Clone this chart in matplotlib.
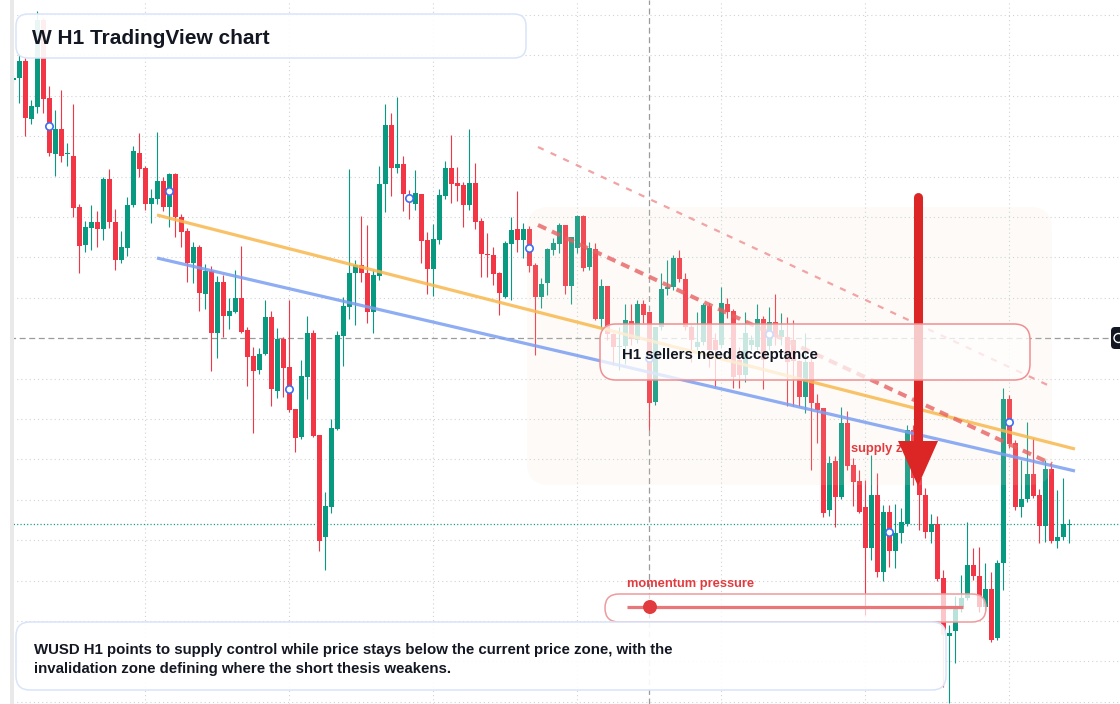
import numpy as np
import matplotlib
matplotlib.use("Agg")
import matplotlib.pyplot as plt
from matplotlib.patches import FancyBboxPatch, Rectangle, Polygon, Circle
import matplotlib.transforms as mtransforms

plt.rcParams['lines.scale_dashes'] = False
plt.rcParams['font.family'] = ['Liberation Sans', 'DejaVu Sans']

# ---------------- data (price points, H1 bars) ----------------
opens = [
    624, 626, 643, 585, 597, 684, 606, 550, 575, 550,
    548, 497, 459, 476, 482, 475, 525, 482, 444, 456,
    499, 551, 536, 500, 505, 523, 497, 530, 487, 473,
    441, 457, 410, 433, 371, 422, 388, 392, 406, 374,
    348, 334, 350, 387, 313, 365, 337, 295, 267, 327,
    371, 269, 167, 197, 275, 368, 397, 431, 439, 431,
    392, 428, 520, 579, 536, 540, 508, 500, 510, 464,
    435, 464, 508, 536, 521, 519, 499, 521, 483, 450,
    449, 431, 407, 460, 475, 464, 475, 439, 407, 421,
    454, 460, 479, 418, 456, 488, 437, 455, 385, 418,
    370, 357, 358, 383, 364, 400, 392, 302, 377, 415,
    417, 446, 425, 377, 357, 362, 398, 364, 359, 400,
    393, 344, 329, 359, 357, 385, 358, 382, 367, 367,
    364, 343, 307, 342, 301, 296, 194, 243, 207, 281,
    239, 223, 197, 156, 209, 132, 192, 153, 171, 180,
    274, 226, 209, 172, 180, 126, 68, 73, 97, 106,
    139, 128, 97, 115, 66, 141, 305, 261, 197, 205,
    230, 209, 178, 235, 163, 167, 179,
]
highs = [
    629, 649, 646, 604, 693, 686, 618, 594, 614, 561,
    600, 500, 483, 499, 493, 527, 535, 495, 473, 507,
    558, 571, 538, 515, 572, 527, 531, 531, 490, 476,
    462, 459, 440, 438, 428, 429, 406, 434, 458, 377,
    357, 356, 404, 393, 376, 367, 404, 295, 344, 388,
    374, 269, 212, 285, 373, 407, 535, 444, 488, 479,
    434, 538, 600, 591, 607, 548, 514, 534, 510, 472,
    480, 515, 543, 569, 537, 522, 575, 541, 486, 471,
    457, 432, 463, 487, 513, 481, 478, 441, 426, 456,
    466, 481, 479, 467, 489, 489, 462, 461, 425, 418,
    371, 377, 400, 400, 404, 404, 392, 377, 431, 444,
    449, 454, 431, 379, 392, 401, 401, 371, 417, 406,
    395, 357, 392, 369, 400, 388, 397, 410, 391, 387,
    384, 344, 371, 346, 310, 296, 248, 248, 297, 293,
    246, 234, 224, 249, 231, 199, 199, 200, 196, 279,
    279, 234, 216, 190, 188, 134, 79, 108, 129, 182,
    156, 157, 141, 132, 144, 316, 309, 264, 244, 282,
    266, 215, 244, 241, 214, 226, 185,
]
lows = [
    622, 601, 568, 580, 591, 591, 548, 528, 542, 538,
    487, 431, 452, 454, 457, 464, 476, 434, 441, 448,
    497, 527, 494, 481, 500, 493, 477, 467, 457, 422,
    421, 393, 395, 333, 346, 367, 375, 391, 371, 318,
    271, 330, 349, 298, 306, 307, 292, 252, 265, 305,
    267, 153, 134, 191, 274, 338, 385, 379, 422, 381,
    371, 424, 492, 508, 531, 493, 485, 494, 441, 410,
    408, 460, 505, 501, 503, 477, 494, 475, 427, 427,
    419, 389, 406, 404, 452, 446, 432, 349, 396, 409,
    449, 451, 410, 400, 451, 433, 434, 384, 376, 364,
    339, 334, 340, 359, 361, 381, 274, 299, 374, 409,
    414, 422, 374, 342, 354, 359, 337, 317, 356, 386,
    316, 316, 322, 354, 354, 315, 354, 359, 359, 298,
    298, 298, 291, 234, 261, 187, 188, 177, 205, 234,
    198, 191, 89, 144, 127, 123, 137, 136, 161, 178,
    219, 174, 166, 161, 123, 17, 1, 41, 92, 104,
    124, 92, 94, 62, 64, 114, 256, 194, 187, 202,
    206, 161, 162, 161, 156, 164, 161,
]
closes = [
    626, 643, 586, 598, 684, 605, 551, 575, 548, 551,
    496, 458, 477, 482, 475, 525, 482, 444, 457, 499,
    553, 535, 500, 506, 523, 497, 530, 487, 472, 441,
    457, 411, 433, 371, 422, 388, 393, 406, 372, 347,
    333, 350, 387, 315, 365, 336, 294, 266, 328, 371,
    268, 163, 198, 276, 369, 398, 431, 439, 431, 392,
    429, 520, 579, 536, 540, 510, 504, 511, 463, 435,
    465, 509, 536, 520, 518, 499, 521, 482, 450, 449,
    430, 411, 461, 474, 464, 475, 438, 407, 420, 455,
    461, 479, 418, 467, 488, 436, 456, 385, 418, 370,
    357, 358, 384, 365, 400, 389, 301, 377, 415, 417,
    446, 425, 377, 364, 362, 399, 354, 354, 401, 392,
    327, 329, 371, 364, 385, 344, 382, 367, 374, 342,
    343, 307, 342, 301, 294, 191, 241, 207, 281, 238,
    222, 192, 156, 209, 132, 192, 153, 171, 182, 274,
    226, 209, 172, 180, 125, 69, 71, 97, 106, 139,
    128, 97, 115, 64, 141, 305, 260, 197, 205, 230,
    208, 178, 235, 163, 167, 180, 180,
]
marker_bars = [6, 26, 46, 66, 86, 106, 126, 146, 166]
crosshair_bar = 106
crosshair_price = 366

# trend-line drawing anchors (bar index, price)
orange_line = ([23.95, 176.95], [489, 255])
blue_line = ([23.95, 176.95], [446, 233])
pink_dash = ([87.45, 173.1], [557, 317])
red_dash = ([87.45, 173.1], [479, 240])

title_text = "W H1 TradingView chart"
box_text = "H1 sellers need acceptance"
supply_text = "supply zone"
momentum_text = "momentum pressure"
bottom_lines = [
    "WUSD H1 points to supply control while price stays below the current price zone, with the",
    "invalidation zone defining where the short thesis weakens.",
]

GREEN = '#089981'
RED = '#f23645'
INK = '#131722'

# ---------------- figure ----------------
W, H = 1120, 704
fig = plt.figure(figsize=(W / 100, H / 100), dpi=100)
ax = fig.add_axes([0, 0, 1, 1])
ax.set_xlim(-2.217, 184.45)
ax.set_ylim(0, 704)
ax.axis('off')

# pixel-space transform for annotation widgets
px = mtransforms.Affine2D().scale(1 / W, -1 / H).translate(0, 1) + ax.transAxes

# grid
for gx in np.arange(22, 180, 24):
    ax.axvline(gx, color='#cfd3d8', lw=0.8, ls=(0, (0.8, 2.2)), zorder=0)
for gy in np.arange(689, 0, -40.4):
    if abs(gy - crosshair_price) > 3:
        ax.axhline(gy, color='#cfd3d8', lw=0.8, ls=(0, (0.8, 2.2)), zorder=0)

# crosshair
ax.axvline(crosshair_bar, color='#9b9b9b', lw=0.9, ls=(0, (4.3, 2.6)), zorder=1)
ax.plot([-2.2, 182.8], [crosshair_price, crosshair_price], color='#9b9b9b', lw=0.9,
        ls=(0, (4.3, 2.6)), zorder=1)

o = np.array(opens, float)
h = np.array(highs, float)
l = np.array(lows, float)
c = np.array(closes, float)
n = len(o)
idx = np.arange(n)

# last price line
ax.axhline(c[-1], color=GREEN, lw=0.9, ls=(0, (0.8, 1.6)), zorder=1)

# candles
up = c >= o
cols = np.where(up, GREEN, RED)
ax.vlines(idx, l, h, colors=cols, lw=0.8, zorder=2)
bottom = np.minimum(o, c)
height = np.maximum(np.abs(c - o), 1.3)
ax.bar(idx, height, bottom=bottom, width=0.78, color=cols, edgecolor='none', zorder=3)

# shaded supply zone
ax.add_patch(FancyBboxPatch((527, 207), 525, 278, boxstyle='round,pad=0,rounding_size=22',
                            transform=px, fc='#f0e0c8', ec='none', alpha=0.13, zorder=4))

# trend lines
ax.plot(*orange_line, color='#f8b84e', lw=2.3, alpha=0.85, solid_capstyle='butt', zorder=5)
ax.plot(*blue_line, color='#7a9ff2', lw=2.3, alpha=0.85, solid_capstyle='butt', zorder=5)
ax.plot(*pink_dash, color='#f2a3a3', lw=1.6, ls=(0, (4.5, 5.5)), zorder=5)
ax.plot(*red_dash, color='#e86262', lw=2.9, alpha=0.8, ls=(0, (6.5, 4.5)), zorder=5)

# pivot markers
mk = np.array(marker_bars)
ax.scatter(mk, (o[mk] + c[mk]) / 2, s=28, facecolor='white', edgecolor='#3f6ef3',
           linewidths=1.2, zorder=6)

# supply zone label and arrow
ax.text(851, 452, supply_text, transform=px, color='#e23b3f', fontsize=9.3,
        fontweight='bold', va='baseline', ha='left', zorder=7)
ax.plot([918, 918], [197, 445], transform=px, color='#dc2626', lw=6.5,
        solid_capstyle='round', zorder=8)
ax.add_patch(Polygon([(898, 441), (938, 441), (918, 486)], closed=True, transform=px,
                     fc='#dc2626', ec='none', zorder=8))

# H1 box
ax.add_patch(FancyBboxPatch((600, 324), 430, 56, boxstyle='round,pad=0,rounding_size=16',
                            transform=px, fc=(1, 1, 1, 0.75), ec='#ef8f92', lw=1.1, zorder=9))
ax.text(622, 359.5, box_text, transform=px, color=INK, fontsize=10.8, fontweight='bold',
        va='baseline', ha='left', zorder=10)

# momentum pill
ax.text(627, 587, momentum_text, transform=px, color='#e23b3f', fontsize=9.3,
        fontweight='bold', va='baseline', ha='left', zorder=9)
ax.add_patch(FancyBboxPatch((605, 594), 381, 28, boxstyle='round,pad=0,rounding_size=14',
                            transform=px, fc=(1, 1, 1, 0.72), ec='#ef9a9c', lw=1.1, zorder=9))
ax.plot([627, 963], [607, 607], transform=px, color='#e9777a', lw=2.3, zorder=10,
        solid_capstyle='butt')
ax.add_patch(Circle((650, 607), 7, transform=px, fc='#e23b3f', ec='none', zorder=10))

# bottom summary box
ax.add_patch(FancyBboxPatch((16, 622), 930, 68, boxstyle='round,pad=0,rounding_size=14',
                            transform=px, fc=(1, 1, 1, 0.92), ec='#d8e4fa', lw=1.1, zorder=9))
for i, line in enumerate(bottom_lines):
    ax.text(34, 654 + 19.5 * i, line, transform=px, color=INK, fontsize=10.8,
            fontweight='bold', va='baseline', ha='left', zorder=10)

# title box
ax.add_patch(FancyBboxPatch((16, 14), 510, 44, boxstyle='round,pad=0,rounding_size=12',
                            transform=px, fc=(1, 1, 1, 0.92), ec='#d8e4fa', lw=1.1, zorder=9))
ax.text(32, 43.5, title_text, transform=px, color=INK, fontsize=15, fontweight='bold',
        va='baseline', ha='left', zorder=10)

# right price label stub
ax.add_patch(FancyBboxPatch((1111, 327), 30, 22, boxstyle='round,pad=0,rounding_size=4',
                            transform=px, fc=INK, ec='none', zorder=11))
ax.add_patch(Circle((1118.5, 338), 4.5, transform=px, fc='none', ec='white', lw=1, zorder=12))

# left margin and pane border
ax.add_patch(Rectangle((0, 0), 10, 704, transform=px, fc='white', ec='none', zorder=11))
ax.add_patch(Rectangle((10, 0), 4, 704, transform=px, fc='#e9e9e9', ec='none', zorder=11))

fig.savefig('out.png', dpi=100)
